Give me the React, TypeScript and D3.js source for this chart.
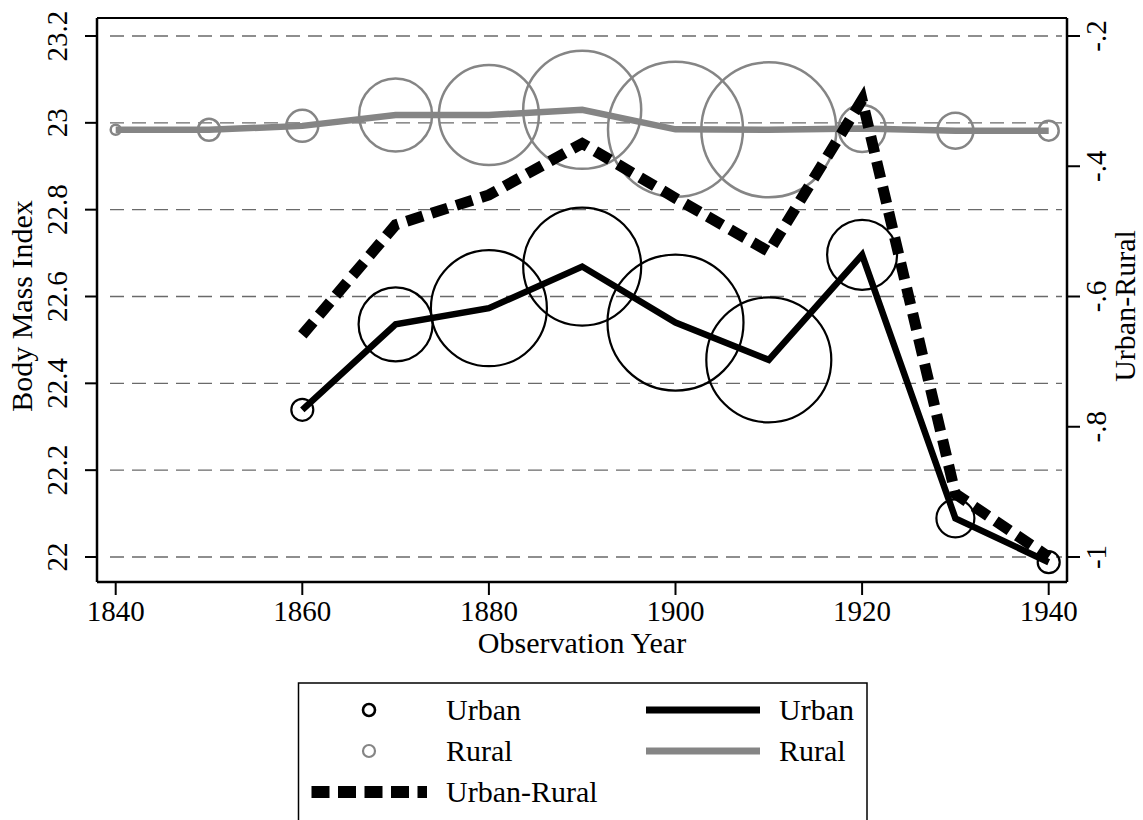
import React from "react";
import * as d3 from "d3";

const years = [1840, 1850, 1860, 1870, 1880, 1890, 1900, 1910, 1920, 1930, 1940];
const ruralBMI = [22.984, 22.984, 22.993, 23.018, 23.018, 23.03, 22.985, 22.984, 22.987, 22.982, 22.982];
const ruralN = [25, 121, 256, 1332, 2500, 3481, 4556, 4556, 552, 324, 100];
const urbanYears = [1860, 1870, 1880, 1890, 1900, 1910, 1920, 1930, 1940];
const urbanBMI = [22.339, 22.536, 22.573, 22.669, 22.54, 22.454, 22.696, 22.089, 21.988];
const urbanN = [121, 1369, 3364, 3481, 4624, 3906, 1225, 361, 121];
const diffUR = [-0.659, -0.49, -0.444, -0.365, -0.449, -0.531, -0.298, -0.903, -1.0];

const leftTicks = [22, 22.2, 22.4, 22.6, 22.8, 23, 23.2];
const leftTickLabels = ["22", "22.2", "22.4", "22.6", "22.8", "23", "23.2"];
const rightTicks = [-1, -0.8, -0.6, -0.4, -0.2];
const rightTickLabels = ["-1", "-.8", "-.6", "-.4", "-.2"];
const xTicks = [1840, 1860, 1880, 1900, 1920, 1940];

const FONT = "'Liberation Serif', 'Times New Roman', serif";
const GRAY = "#858585";

export default function App() {
  const W = 1143, H = 820;
  const left = 97, right = 1067, top = 18, bottom = 582;
  const x = d3.scaleLinear().domain([1840, 1940]).range([115.7, 1048.7]);
  const yL = d3.scaleLinear().domain([22, 23.2]).range([557, 36]);
  const yR = d3.scaleLinear().domain([-1, -0.2]).range([557, 36]);
  const rS = d3.scaleSqrt().domain([0, 10000]).range([0, 100]);

  const ruralPts: [number, number][] = years.map((yr, i) => [yr, ruralBMI[i]]);
  const urbanPts: [number, number][] = urbanYears.map((yr, i) => [yr, urbanBMI[i]]);
  const diffPts: [number, number][] = urbanYears.map((yr, i) => [yr, diffUR[i]]);

  const lineL = d3.line<[number, number]>().x(d => x(d[0])).y(d => yL(d[1]));
  const lineR = d3.line<[number, number]>().x(d => x(d[0])).y(d => yR(d[1]));

  const midY = (top + bottom) / 2 + 6;
  const legTop = 683;
  const rows = [710, 751, 792];

  return (
    <svg width={W} height={H} style={{ position: "absolute", left: 0, top: 0, background: "#fff" }} fontFamily={FONT}>
      <rect x={0} y={0} width={W} height={H} fill="#fff" />
      {/* gridlines */}
      {leftTicks.map((t) => (
        <line key={"g" + t} x1={110} x2={1062} y1={yL(t)} y2={yL(t)} stroke="#6a6a6a" strokeWidth={1.4} strokeDasharray="14 8" />
      ))}

      {/* urban circles */}
      {urbanYears.map((yr, i) => (
        <circle key={"uc" + yr} cx={x(yr)} cy={yL(urbanBMI[i])} r={rS(urbanN[i])} fill="none" stroke="#000" strokeWidth={2.2} />
      ))}
      {/* urban line */}
      <path d={lineL(urbanPts) || ""} fill="none" stroke="#000" strokeWidth={6.5} strokeLinejoin="miter" />
      {/* rural circles */}
      {years.map((yr, i) => (
        <circle key={"rc" + yr} cx={x(yr)} cy={yL(ruralBMI[i])} r={rS(ruralN[i])} fill="none" stroke={GRAY} strokeWidth={2.5} />
      ))}
      {/* rural line */}
      <path d={lineL(ruralPts) || ""} fill="none" stroke={GRAY} strokeWidth={6.5} strokeLinejoin="miter" />
      {/* diff line */}
      <path d={lineR(diffPts) || ""} fill="none" stroke="#000" strokeWidth={11} strokeDasharray="17 9" strokeLinejoin="miter" />

      {/* frame / axes */}
      <line x1={left} x2={right} y1={top} y2={top} stroke="#000" strokeWidth={2} />
      <line x1={left} x2={left} y1={top} y2={bottom} stroke="#000" strokeWidth={2.5} />
      <line x1={right} x2={right} y1={top} y2={bottom} stroke="#000" strokeWidth={2.5} />
      <line x1={left} x2={right} y1={bottom} y2={bottom} stroke="#000" strokeWidth={2.5} />

      {/* left ticks */}
      {leftTicks.map((t, i) => (
        <g key={"lt" + t}>
          <line x1={85} x2={left} y1={yL(t)} y2={yL(t)} stroke="#000" strokeWidth={2} />
          <text transform={`translate(67,${yL(t)}) rotate(-90)`} textAnchor="middle" fontSize={29} fill="#000">{leftTickLabels[i]}</text>
        </g>
      ))}
      {/* right ticks */}
      {rightTicks.map((t, i) => (
        <g key={"rt" + t}>
          <line x1={right} x2={1080} y1={yR(t)} y2={yR(t)} stroke="#000" strokeWidth={2} />
          <text transform={`translate(1106,${yR(t)}) rotate(-90)`} textAnchor="middle" fontSize={29} fill="#000">{rightTickLabels[i]}</text>
        </g>
      ))}
      {/* x ticks */}
      {xTicks.map((t) => (
        <g key={"xt" + t}>
          <line x1={x(t)} x2={x(t)} y1={bottom} y2={595} stroke="#000" strokeWidth={2} />
          <text x={x(t)} y={621} textAnchor="middle" fontSize={29} fill="#000">{t}</text>
        </g>
      ))}

      {/* axis titles */}
      <text x={(left + right) / 2} y={653} textAnchor="middle" fontSize={30} fill="#000">Observation Year</text>
      <text transform={`translate(32,${midY}) rotate(-90)`} textAnchor="middle" fontSize={30} fill="#000">Body Mass Index</text>
      <text transform={`translate(1135,${midY}) rotate(-90)`} textAnchor="middle" fontSize={30} fill="#000">Urban-Rural</text>

      {/* legend */}
      <rect x={298.5} y={legTop} width={568.5} height={160} fill="#fff" stroke="#000" strokeWidth={1.5} />
      <circle cx={369} cy={rows[0]} r={6} fill="none" stroke="#000" strokeWidth={2.6} />
      <text x={446} y={rows[0] + 10} fontSize={30} fill="#000">Urban</text>
      <line x1={646} x2={760} y1={rows[0]} y2={rows[0]} stroke="#000" strokeWidth={7} />
      <text x={779} y={rows[0] + 10} fontSize={30} fill="#000">Urban</text>

      <circle cx={369} cy={rows[1]} r={6} fill="none" stroke={GRAY} strokeWidth={2.2} />
      <text x={446} y={rows[1] + 10} fontSize={30} fill="#000">Rural</text>
      <line x1={646} x2={760} y1={rows[1]} y2={rows[1]} stroke={GRAY} strokeWidth={7} />
      <text x={779} y={rows[1] + 10} fontSize={30} fill="#000">Rural</text>

      <line x1={311.5} x2={427} y1={rows[2]} y2={rows[2]} stroke="#000" strokeWidth={12} strokeDasharray="18 8.5" />
      <text x={446} y={rows[2] + 10} fontSize={30} fill="#000">Urban-Rural</text>
    </svg>
  );
}
